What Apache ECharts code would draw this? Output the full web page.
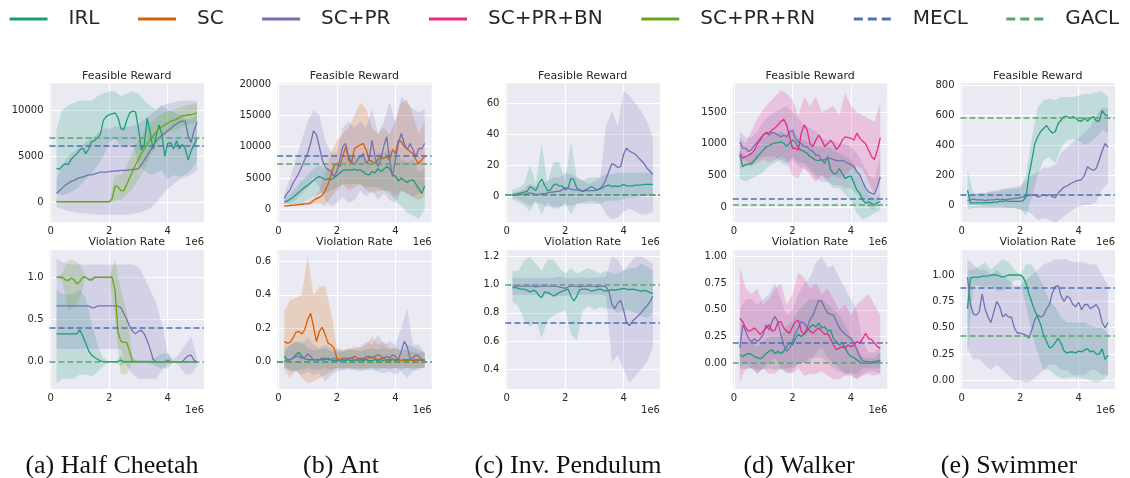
<!DOCTYPE html>
<html>
<head>
<meta charset="utf-8">
<script src="https://cdn.jsdelivr.net/npm/echarts@6/dist/echarts.min.js"></script>
<style>
  html, body { margin: 0; padding: 0; background: #fff; }
  #chart { width: 1130px; height: 478px; }
</style>
</head>
<body>
<div id="chart"></div>
<script>
// x positions, in units of 1e6 steps
const X = [0.2,0.3,0.4,0.5,0.6,0.7,0.8,0.9,1.0,1.1, 1.2,1.3,1.4,1.5,1.6,1.7,1.8,1.9,2.0,2.1,
  2.2,2.3,2.4,2.5,2.6,2.7,2.8,2.9,3.0,3.1, 3.2,3.3,3.4,3.5,3.6,3.7,3.8,3.9,4.0,4.1,
  4.2,4.3,4.4,4.5,4.6,4.7,4.8,4.9,5.0]
// x positions of the shaded bands
const XB = [0.2,0.4,0.6,0.8,1.0, 1.2,1.4,1.6,1.8,2.0, 2.2,2.4,2.6,2.8,3.0, 3.2,3.4,3.6,3.8,4.0, 4.2,4.4,4.6,4.8,5.0]

const X_TICKS = [0, 2, 4]

const COLORS = {
  'IRL': '#1b9e77', 'SC': '#d95f02', 'SC+PR': '#7570b3', 'SC+PR+BN': '#e7298a',
  'SC+PR+RN': '#66a61e', 'MECL': '#4c72b0', 'GACL': '#55a868'
}
const LEGEND_NAMES = ['IRL', 'SC', 'SC+PR', 'SC+PR+BN', 'SC+PR+RN', 'MECL', 'GACL']

// ---------- (a) Half Cheetah : feasible reward ----------
const hcR_IRL = [3700,3600,4000,4200,4100,4700,5000,5300,5700,5900, 5300,5800,6600,6700,7000,7400,8900,9300,9500,9600,
  9700,9200,8000,7900,8900,9700,9900,9800,8000,5700, 6300,9100,7600,5800,7100,8400,7400,5000,6400,6500,
  5800,6700,5800,6300,5800,4600,5600,6300,6900]
const hcR_IRL_lo = [1000,800,1000,1300,1800, 2500,3200,4000,5000,6500, 7000,6000,6000,6500,4000, 3500,3000,3200,3500,2500, 3000,2800,3000,3500,4500]
const hcR_IRL_hi = [8000,10000,10500,10800,11000, 11000,11000,11500,11800,12000, 12000,11500,11800,12000,11800, 11000,10500,10000,10500,10000, 9800,9500,9000,9000,9500]
const hcR_PR = [1000,1300,1600,1900,2100,2300,2400,2600,2700,2800, 2900,3000,3000,3100,3200,3300,3300,3300,3350,3400,
  3400,3450,3500,3500,3500,3550,3600,3600,3700,4100, 4600,5100,5600,6100,6600,7000,7300,7500,7800,8000,
  8300,8500,8700,8800,8800,7200,6500,7800,8700]
const hcR_PR_lo = [-500,-700,-900,-1000,-1100, -1200,-1200,-1300,-1300,-1300, -1300,-1300,-1300,-1200,-1100, -900,-600,0,800,1500, 2000,2500,2800,3000,3500]
const hcR_PR_hi = [2500,4000,5000,5500,6000, 6500,7000,7500,8000,8000, 8200,8200,8200,8300,8500, 9000,9500,10000,10500,10700, 10800,11000,11000,11000,11000]
const hcR_RN = [100,100,100,100,100,100,100,100,100,100, 100,100,100,100,100,100,100,100,100,400,
  1800,1700,1300,1300,2000,2700,3400,4100,4700,5300, 5800,6300,6800,7200,7600,8000,8200,8400,8600,8800,
  8900,9000,9200,9400,9400,9500,9500,9600,9700]
const hcR_RN_lo = [0,0,0,0,0, 0,0,0,0,0, 300,300,800,1500,2500, 3500,5000,6000,7000,7500, 7800,8000,8300,8500,8700]
const hcR_RN_hi = [200,200,200,200,200, 200,200,200,200,200, 3000,3000,4000,5500,6800, 7800,8600,9200,9600,9900, 10000,10300,10500,10600,10800]

// ---------- (a) Half Cheetah : violation rate ----------
const hcV_IRL = [0.33,0.33,0.33,0.33,0.33,0.33,0.33,0.33,0.38,0.3, 0.22,0.13,0.08,0.05,0.03,0.01,0,0,0,0,
  0,0,0.02,0,0,0,0,0,0,0, 0,0,0,0,0,0,0,0,0,0, 0,0,0,0,0,0,0,0,0]
const hcV_IRL_lo = [-0.25,-0.2,-0.2,-0.2,-0.15, -0.15,-0.17,-0.12,-0.05,0, 0,-0.05,0,0,0, 0,-0.02,-0.05,-0.08,-0.08, 0,0,0,0,0]
const hcV_IRL_hi = [0.85,0.8,0.8,0.8,0.85, 0.75,0.45,0.2,0.05,0, 0,0.08,0,0.02,0.02, 0.02,0.02,0.05,0.1,0.1, 0,0,0,0,0]
const hcV_PR = [0.66,0.66,0.66,0.66,0.66,0.66,0.66,0.66,0.66,0.66, 0.66,0.66,0.64,0.64,0.66,0.66,0.66,0.66,0.66,0.66,
  0.66,0.66,0.64,0.57,0.5,0.42,0.36,0.33,0.36,0.37, 0.33,0.25,0.15,0.03,0,0,0,0,0.02,0,
  0,0,0,0,0.04,0.07,0.08,0.02,0]
const hcV_PR_lo = [0.15,0.15,0.15,0.15,0.15, 0.15,0.15,0.15,0.15,0.15, 0.15,0.15,-0.05,-0.15,-0.2, -0.2,-0.2,-0.2,-0.1,-0.03, 0,-0.05,-0.15,-0.15,-0.05]
const hcV_PR_hi = [1.22,1.18,1.16,1.15,1.15, 1.15,1.15,1.15,1.15,1.15, 1.15,1.15,1.15,1.15,1.12, 1.0,0.85,0.7,0.45,0.1, 0.02,0.1,0.2,0.3,0.05]
const hcV_RN = [1.0,1.0,1.0,0.97,0.96,0.99,0.97,0.92,0.95,1.0, 1.0,0.97,0.97,1.0,1.0,1.0,1.0,1.0,1.0,1.0,
  0.85,0.35,0.24,0.23,0.23,0.12,0,0,0,0, 0,0,0,0,0,0,0,0,0,0, 0,0,0,0,0,0,0,0,0]
const hcV_RN_lo = [1.0,0.95,0.6,0.65,0.75, 1.0,0.95,1.0,1.0,1.0, 0.5,-0.15,-0.15,0,0, 0,0,0,0,0, 0,0,0,0,0]
const hcV_RN_hi = [1.0,1.05,1.2,1.2,1.15, 1.0,1.0,1.0,1.0,1.0, 1.2,0.85,0.6,0.05,0, 0,0,0,0,0, 0,0,0,0,0]

// ---------- (b) Ant : feasible reward ----------
const antR_IRL = [1200,1300,1600,1900,2300,2700,3100,3500,3800,4200, 4600,5000,5200,5000,4700,4900,4700,5000,5400,5800,
  6200,6300,6300,6200,6400,6200,6300,6000,5600,5500, 6000,5800,6500,6000,6400,6800,6500,5500,5300,4500,
  5000,4600,4300,4600,4700,4000,3300,2500,3700]
const antR_IRL_lo = [900,800,800,1000,1500, 2000,2500,2500,3000,3500, 4000,4000,4000,4000,3500, 3500,3500,3000,2500,1500, 500,-500,-1000,-1500,0]
const antR_IRL_hi = [1500,2500,3500,4500,5500, 6500,7000,6500,6500,7500, 8000,8500,8500,8500,8000, 8000,9000,9000,9500,8500, 8000,7500,8000,6000,6500]
const antR_SC = [500,550,600,650,700,750,800,850,900,1000, 1400,1700,1900,2200,3000,4000,5500,7000,7300,6800,
  8400,10000,7900,7300,9700,10000,10300,10500,9500,7900, 7600,7300,7900,8400,8100,8400,7900,9500,8900,11000,
  10800,10000,9700,9200,8900,7900,7300,7900,8400]
const antR_SC_lo = [400,500,500,600,600, 900,1000,500,2000,3000, 4000,3000,3500,4000,3000, 2500,3000,3000,3000,2000, 3000,2500,2000,1500,2000]
const antR_SC_hi = [600,700,900,1000,1200, 1800,3000,6000,9000,11000, 12000,13000,15000,17000,16000, 13000,12000,13000,12000,14000, 17000,17500,15000,12000,14000]
const antR_PR = [1750,2550,3100,4150,4950,5750,6800,7900,8900,10500, 12500,11900,10000,7900,6800,6300,6000,5200,6000,7900,
  10000,10500,8400,7600,7100,7900,8400,8900,7300,7900, 11000,8400,6800,7900,10000,11600,7900,5200,7900,10500,
  12100,10500,9500,10500,9500,8400,9700,9700,10500]
const antR_PR_lo = [800,1000,1500,2500,3500, 5000,3500,1500,500,1000, 2000,1000,1500,3000,2000, 3000,1500,2500,1500,1000, 3000,2500,2000,2500,3500]
const antR_PR_hi = [2500,5000,8000,11000,14000, 15800,15000,11000,9000,9000, 13000,14000,13000,14000,13000, 16000,12000,14000,17000,14000, 18000,17000,16000,15500,16000]

// ---------- (b) Ant : violation rate ----------
const antV_IRL = [0.03,0.01,0.01,0.02,0.04,0.055,0.03,0.015,0.01,0.01, 0.01,0.01,0.01,0.01,0.01,0.02,0.01,0.005,0.005,0.005,
  0.01,0.005,0.01,0.005,0.01,0.005,0.01,0.005,0.01,0.005, 0.005,0.01,0.005,0.01,0.005,0.01,0.005,0.01,0.005,0.01,
  0.005,0.01,0.005,0.01,0.005,0.01,0.005,0.01,0.005]
const antV_IRL_lo = [-0.04,-0.05,-0.06,-0.05,-0.04, -0.05,-0.05,-0.04,-0.05,-0.04, -0.05,-0.04,-0.05,-0.04,-0.05, -0.04,-0.05,-0.04,-0.05,-0.04, -0.05,-0.04,-0.05,-0.04,-0.04]
const antV_IRL_hi = [0.08,0.1,0.12,0.12,0.08, 0.07,0.07,0.08,0.06,0.06, 0.06,0.07,0.07,0.06,0.07, 0.08,0.07,0.08,0.07,0.08, 0.07,0.1,0.09,0.07,0.05]
const antV_SC = [0.12,0.11,0.115,0.14,0.175,0.18,0.165,0.19,0.25,0.29, 0.21,0.12,0.18,0.205,0.16,0.11,0.1,0.08,0.02,0.01,
  0.02,0.015,0.02,0.02,0.03,0.02,0.01,0.02,0.015,0.02, 0.025,0.02,0.01,0.015,0.02,0.01,0.01,0.015,0.01,0.01,
  0.005,0.01,0.01,0.01,0.005,0.01,0.01,0.005,0.01]
const antV_SC_lo = [-0.05,-0.1,-0.05,-0.1,-0.13, -0.12,-0.1,-0.08,-0.06,-0.04, -0.04,-0.04,-0.04,-0.05,-0.04, -0.04,-0.04,-0.04,-0.04,-0.04, -0.04,-0.04,-0.04,-0.04,-0.04]
const antV_SC_hi = [0.3,0.37,0.38,0.4,0.63, 0.4,0.45,0.45,0.3,0.08, 0.07,0.07,0.09,0.08,0.1, 0.15,0.1,0.12,0.08,0.08, 0.06,0.07,0.06,0.05,0.06]
const antV_PR = [0,0.01,0.01,0.02,0.03,0.03,0.02,0.02,0.045,0.03, 0.01,0.01,0.01,0.02,0.02,0.01,0.01,0.02,0.01,0.005,
  0.01,0.02,0.01,0.02,0.01,0.01,0.02,0.01,0.03,0.03, 0.02,0.03,0.04,0.03,0.02,0.03,0.02,0.04,0.03,0.01,
  0.06,0.12,0.09,0.02,0.02,0.04,0.03,0.01,0.01]
const antV_PR_lo = [-0.03,-0.06,-0.06,-0.08,-0.06, -0.08,-0.07,-0.12,-0.08,-0.06, -0.05,-0.05,-0.05,-0.06,-0.05, -0.05,-0.06,-0.07,-0.06,-0.08, -0.06,-0.1,-0.06,-0.05,-0.03]
const antV_PR_hi = [0.05,0.1,0.12,0.1,0.14, 0.1,0.08,0.1,0.08,0.07, 0.06,0.08,0.07,0.09,0.12, 0.1,0.16,0.1,0.12,0.1, 0.2,0.32,0.1,0.1,0.05]

// ---------- (c) Inv. Pendulum : feasible reward ----------
const ipR_IRL = [1,1,1.5,2,2.5,3,6,5,3.5,8, 11,7,3.5,4,7,7.8,6.5,6.5,4,5,
  11.5,10.5,5,4,3,4,5,6,5,4, 4.5,5.5,6.5,7,6,6.5,6,6.5,7.5,6.5,
  6.5,6.5,7,7,7.2,7.5,7.5,7.5,7.5]
const ipR_IRL_lo = [-2,-4,-6,-10,-3, -12,-4,-8,-8,-4, -12,-5,-5,-5,-5, -5,-3,-3,-3,-2, -1,-1,0,0,0]
const ipR_IRL_hi = [4,5,8,20,8, 34,8,22,22,10, 35,12,10,12,12, 12,14,14,15,15, 15,15,15,15,15]
const ipR_PR = [0.5,0.5,1,1,1.2,1.5,2,1.5,1,1, 1.5,1.5,2,2.5,2.5,3,3,4,5.5,5,
  4.5,4,4,3.5,3,3.5,3.5,3.5,3.5,4, 5,7,11,16,21,20,18.5,19,27,31,
  29,28,27,25,23,21,18,16,14]
const ipR_PR_lo = [-1,-2,-4,-6,-4, -5,-7,-7,-7,-6, -6,-5,-4,-3,-3, -5,-12,-15,-14,-10, -8,-10,-12,-12,-10]
const ipR_PR_hi = [2,3,5,8,6, 8,10,12,12,15, 14,12,10,8,9, 12,45,55,45,68, 65,60,55,48,38]

// ---------- (c) Inv. Pendulum : violation rate ----------
const ipV_IRL = [0.98,0.98,0.975,0.97,0.97,0.96,0.95,0.96,0.955,0.925, 0.91,0.95,0.945,0.935,0.92,0.93,0.945,0.955,0.96,0.97,
  0.92,0.885,0.92,0.965,0.97,0.97,0.965,0.955,0.96,0.965, 0.97,0.96,0.955,0.96,0.965,0.96,0.965,0.97,0.975,0.97,
  0.965,0.97,0.965,0.96,0.955,0.96,0.955,0.945,0.94]
const ipV_IRL_lo = [0.88,0.85,0.75,0.7,0.75, 0.62,0.75,0.78,0.8,0.82, 0.65,0.6,0.82,0.85,0.82, 0.84,0.83,0.83,0.8,0.82, 0.82,0.8,0.78,0.76,0.8]
const ipV_IRL_hi = [1.1,1.1,1.17,1.2,1.15, 1.1,1.18,1.18,1.12,1.08, 1.12,1.08,1.1,1.12,1.1, 1.08,1.1,1.08,1.08,1.1, 1.12,1.12,1.15,1.13,1.1]
const ipV_PR = [0.995,0.99,0.99,0.99,0.99,0.99,0.99,0.99,0.985,0.99, 0.99,0.99,0.99,0.99,0.99,0.99,0.985,0.98,0.975,0.985,
  0.99,0.99,0.99,0.985,0.99,0.99,0.99,0.99,0.99,0.985, 0.99,0.99,0.985,0.95,0.86,0.83,0.87,0.89,0.82,0.73,
  0.71,0.74,0.76,0.78,0.8,0.83,0.85,0.88,0.92]
const ipV_PR_lo = [0.93,0.93,0.93,0.93,0.93, 0.93,0.93,0.93,0.92,0.92, 0.93,0.93,0.93,0.93,0.93, 0.93,0.92,0.45,0.5,0.4, 0.3,0.35,0.4,0.45,0.55]
const ipV_PR_hi = [1.05,1.05,1.05,1.05,1.05, 1.05,1.05,1.05,1.06,1.05, 1.05,1.05,1.05,1.05,1.05, 1.05,1.06,1.2,1.18,1.1, 1.15,1.2,1.2,1.18,1.15]

// ---------- (d) Walker : feasible reward ----------
const wkR_IRL = [820,640,670,680,690,740,800,850,900,950, 970,1000,1010,1020,1030,1010,960,1010,1060,1030,
  930,900,880,850,800,770,740,740,750,690, 800,590,530,530,610,530,450,480,490,380,
  270,220,110,60,80,60,30,70,80]
const wkR_IRL_lo = [450,400,450,500,550, 650,700,750,700,800, 700,700,600,500,500, 400,300,300,200,100, -100,-200,-150,-100,-50]
const wkR_IRL_hi = [900,800,850,950,1100, 1150,1150,1200,1150,1200, 1100,1050,1000,950,950, 950,900,850,800,750, 600,400,200,150,200]
const wkR_PR = [1030,930,930,880,910,980,1030,1090,1140,1170, 1140,1180,1170,1140,1110,1140,1110,1190,1220,1090,
  1030,1000,960,950,900,880,820,820,740,750, 770,770,750,740,730,740,720,690,670,640,
  560,510,400,300,240,215,200,320,480]
const wkR_PR_lo = [850,750,650,750,800, 800,800,700,650,750, 650,600,550,450,400, 400,350,350,300,300, 200,100,0,-50,150]
const wkR_PR_hi = [1200,1100,1100,1200,1350, 1450,1500,1550,1600,1500, 1400,1300,1250,1200,1100, 1050,1050,1000,1000,950, 850,700,500,450,800]
const wkR_BN = [850,770,800,820,850,900,1000,1060,1140,1180, 1170,1220,1250,1300,1350,1390,1300,1110,930,930,
  900,1170,1300,1220,1000,960,1060,1140,1060,960, 1000,1060,1000,910,960,1060,1110,1100,1090,1060,
  1170,1090,1040,1000,900,800,750,900,1100]
const wkR_BN_lo = [600,650,650,700,750, 700,750,800,750,500, 450,650,500,400,500, 450,500,450,500,600, 650,600,400,200,500]
const wkR_BN_hi = [1100,1000,1200,1400,1550, 1650,1750,1850,1800,1700, 1450,1750,1600,1750,1500, 1550,1600,1450,1800,1600, 1500,1450,1400,1350,1650]

// ---------- (d) Walker : violation rate ----------
const wkV_IRL = [0.08,0.06,0.08,0.09,0.08,0.06,0.05,0.04,0.06,0.09, 0.11,0.125,0.09,0.11,0.09,0.11,0.155,0.19,0.17,0.23,
  0.27,0.25,0.27,0.3,0.34,0.36,0.34,0.375,0.33,0.34, 0.3,0.31,0.23,0.2,0.17,0.19,0.14,0.09,0.06,0.05,
  0.03,0.01,0,0,0,0,0,0.01,0.03]
const wkV_IRL_lo = [-0.05,-0.06,-0.05,-0.06,-0.06, -0.05,-0.06,-0.06,-0.05,-0.05, 0,0,0.05,0.05,0.05, 0,-0.05,-0.08,-0.1,-0.1, -0.1,-0.05,-0.05,-0.05,-0.05]
const wkV_IRL_hi = [0.2,0.2,0.2,0.15,0.2, 0.25,0.25,0.25,0.35,0.4, 0.5,0.55,0.6,0.6,0.6, 0.55,0.5,0.45,0.35,0.25, 0.15,0.05,0.05,0.05,0.1]
const wkV_PR = [0.14,0.36,0.3,0.23,0.2,0.23,0.2,0.23,0.27,0.36, 0.31,0.39,0.44,0.39,0.27,0.17,0.11,0.14,0.2,0.28,
  0.33,0.39,0.375,0.33,0.41,0.45,0.52,0.59,0.58,0.52, 0.47,0.46,0.45,0.39,0.33,0.3,0.27,0.25,0.23,0.19,
  0.125,0.06,0.02,0.015,0.01,0.01,0.015,0.02,0.02]
const wkV_PR_lo = [-0.05,0,-0.05,-0.1,-0.05, 0,0.05,-0.05,-0.1,-0.08, 0,0,0,0.1,0.15, 0.05,0,-0.05,-0.1,-0.1, -0.15,-0.1,-0.08,-0.08,-0.1]
const wkV_PR_hi = [0.5,0.6,0.6,0.55,0.6, 0.65,0.75,0.6,0.45,0.5, 0.65,0.75,0.8,0.95,1.0, 0.9,0.92,0.8,0.7,0.6, 0.5,0.2,0.1,0.1,0.15]
const wkV_BN = [0.42,0.39,0.33,0.3,0.31,0.33,0.3,0.27,0.3,0.33, 0.36,0.3,0.31,0.38,0.39,0.33,0.3,0.28,0.34,0.39,
  0.4,0.3,0.27,0.33,0.3,0.28,0.31,0.33,0.3,0.27, 0.28,0.23,0.17,0.125,0.14,0.155,0.14,0.17,0.155,0.17,
  0.2,0.19,0.23,0.28,0.23,0.22,0.19,0.155,0.14]
const wkV_BN_lo = [-0.18,-0.05,-0.05,-0.1,-0.05, -0.1,-0.1,-0.05,-0.08,-0.1, -0.05,-0.12,-0.1,-0.1,-0.08, -0.12,-0.15,-0.15,-0.12,-0.12, -0.15,-0.12,-0.1,-0.12,-0.1]
const wkV_BN_hi = [0.9,0.7,0.65,0.7,0.55, 0.6,0.7,0.75,0.55,0.65, 0.85,0.8,0.7,0.75,0.65, 0.7,0.6,0.5,0.55,0.45, 0.55,0.6,0.65,0.55,0.45]

// ---------- (e) Swimmer : feasible reward ----------
const swR_IRL = [100,15,15,15,15,15,15,18,15,20, 20,25,25,30,25,25,25,25,25,30,
  55,200,300,410,455,490,510,530,500,480, 490,545,565,590,590,580,590,580,560,560,
  580,560,575,590,560,560,630,600,595]
const swR_IRL_lo = [-30,-20,-20,-20,-20, -20,-20,-20,-20,-30, -70,50,200,300,320, 280,380,430,440,430, 400,420,450,500,480]
const swR_IRL_hi = [230,80,80,80,90, 90,100,110,110,110, 200,450,650,700,710, 700,720,720,720,730, 740,740,750,760,720]
const swR_PR = [30,35,40,35,35,35,30,35,35,35, 40,35,40,35,40,40,45,45,50,55,
  60,65,70,65,55,60,70,60,70,55, 50,80,100,120,127,140,150,160,165,170,
  200,255,240,230,245,300,360,410,385]
const swR_PR_lo = [0,0,0,-10,-10, -10,-10,-20,-20,-30, -40,-60,-100,-90,-100, -120,-90,-60,-30,-10, 0,0,20,100,150]
const swR_PR_hi = [60,70,80,80,90, 100,110,110,120,130, 160,200,220,250,250, 270,350,380,420,450, 480,520,600,650,650]

// ---------- (e) Swimmer : violation rate ----------
const swV_IRL = [0.68,0.97,0.98,0.98,0.98,0.99,0.99,0.99,1.0,1.0, 1.0,0.99,0.98,0.99,1.0,1.0,1.0,1.0,1.0,0.98,
  0.92,0.82,0.74,0.66,0.6,0.53,0.43,0.37,0.31,0.32, 0.36,0.4,0.35,0.28,0.26,0.27,0.27,0.26,0.28,0.27,
  0.29,0.3,0.27,0.28,0.25,0.25,0.3,0.2,0.24]
const swV_IRL_lo = [0.25,0.9,0.9,0.88,0.9, 0.85,0.85,0.88,0.95,0.95, 0.7,0.45,0.25,0.1,0.1, 0.05,0.02,0.02,0.03,0.02, 0.02,0,-0.02,0,0.05]
const swV_IRL_hi = [1.05,1.05,1.08,1.12,1.05, 1.1,1.15,1.12,1.05,1.0, 1.1,1.1,1.0,0.9,0.75, 0.7,0.6,0.55,0.55,0.55, 0.55,0.52,0.5,0.5,0.45]
const swV_PR = [0.98,0.72,0.63,0.62,0.65,0.82,0.68,0.6,0.55,0.65, 0.75,0.7,0.6,0.63,0.6,0.6,0.5,0.45,0.45,0.44,
  0.43,0.4,0.48,0.58,0.62,0.6,0.62,0.68,0.72,0.83, 0.89,0.9,0.8,0.75,0.8,0.78,0.72,0.7,0.74,0.67,
  0.72,0.72,0.68,0.7,0.72,0.67,0.55,0.5,0.55]
const swV_PR_lo = [0.3,0.2,0.2,0.15,0.1, 0.15,0.1,0.05,0,0, -0.02,0,0.05,0.1,0.15, 0.15,0.1,0.1,0.05,0.05, 0.05,0.1,0.1,0.05,0.05]
const swV_PR_hi = [1.15,1.1,1.05,1.05,1.0, 1.05,1.0,0.95,0.9,0.9, 0.95,1.0,1.05,1.1,1.12, 1.15,1.15,1.15,1.12,1.12, 1.12,1.1,1.1,1.0,0.9]

// baselines (horizontal dashed lines): [MECL, GACL]
const hcR_base = [6100, 7000]
const hcV_base = [0.40, 0.0]
const antR_base = [8560, 7230]
const antV_base = [0.0, 0.0]
const ipR_base = [0.5, 0.7]
const ipV_base = [0.73, 1.0]
const wkR_base = [137, 37]
const wkV_base = [0.19, 0.0]
const swR_base = [67, 580]
const swV_base = [0.88, 0.425]

// 子图配置
const panels = [
  { caption: '(a) Half Cheetah', capX: 112, plots: [
    { range: [-2117, 12894], ticks: [0, 5000, 10000], dec: 0, base: hcR_base,
      lines: [['IRL', hcR_IRL, hcR_IRL_lo, hcR_IRL_hi], ['SC+PR', hcR_PR, hcR_PR_lo, hcR_PR_hi], ['SC+PR+RN', hcR_RN, hcR_RN_lo, hcR_RN_hi]] },
    { range: [-0.322, 1.322], ticks: [0, 0.5, 1.0], dec: 1, base: hcV_base,
      lines: [['IRL', hcV_IRL, hcV_IRL_lo, hcV_IRL_hi], ['SC+PR', hcV_PR, hcV_PR_lo, hcV_PR_hi], ['SC+PR+RN', hcV_RN, hcV_RN_lo, hcV_RN_hi]] }
  ] },
  { caption: '(b) Ant', capX: 341, plots: [
    { range: [-2077, 20100], ticks: [0, 5000, 10000, 15000, 20000], dec: 0, base: antR_base,
      lines: [['IRL', antR_IRL, antR_IRL_lo, antR_IRL_hi], ['SC', antR_SC, antR_SC_lo, antR_SC_hi], ['SC+PR', antR_PR, antR_PR_lo, antR_PR_hi]] },
    { range: [-0.166, 0.670], ticks: [0, 0.2, 0.4, 0.6], dec: 1, base: antV_base,
      lines: [['IRL', antV_IRL, antV_IRL_lo, antV_IRL_hi], ['SC', antV_SC, antV_SC_lo, antV_SC_hi], ['SC+PR', antV_PR, antV_PR_lo, antV_PR_hi]] }
  ] },
  { caption: '(c) Inv. Pendulum', capX: 568, plots: [
    { range: [-17, 72.9], ticks: [0, 20, 40, 60], dec: 0, base: ipR_base,
      lines: [['IRL', ipR_IRL, ipR_IRL_lo, ipR_IRL_hi], ['SC+PR', ipR_PR, ipR_PR_lo, ipR_PR_hi]] },
    { range: [0.258, 1.248], ticks: [0.4, 0.6, 0.8, 1.0, 1.2], dec: 1, base: ipV_base,
      lines: [['IRL', ipV_IRL, ipV_IRL_lo, ipV_IRL_hi], ['SC+PR', ipV_PR, ipV_PR_lo, ipV_PR_hi]] }
  ] },
  { caption: '(d) Walker', capX: 799, plots: [
    { range: [-242, 1959], ticks: [0, 500, 1000, 1500], dec: 0, base: wkR_base,
      lines: [['IRL', wkR_IRL, wkR_IRL_lo, wkR_IRL_hi], ['SC+PR', wkR_PR, wkR_PR_lo, wkR_PR_hi], ['SC+PR+BN', wkR_BN, wkR_BN_lo, wkR_BN_hi]] },
    { range: [-0.244, 1.063], ticks: [0, 0.25, 0.5, 0.75, 1.0], dec: 2, base: wkV_base,
      lines: [['IRL', wkV_IRL, wkV_IRL_lo, wkV_IRL_hi], ['SC+PR', wkV_PR, wkV_PR_lo, wkV_PR_hi], ['SC+PR+BN', wkV_BN, wkV_BN_lo, wkV_BN_hi]] }
  ] },
  { caption: '(e) Swimmer', capX: 1009, plots: [
    { range: [-115, 811], ticks: [0, 200, 400, 600, 800], dec: 0, base: swR_base,
      lines: [['IRL', swR_IRL, swR_IRL_lo, swR_IRL_hi], ['SC+PR', swR_PR, swR_PR_lo, swR_PR_hi]] },
    { range: [-0.081, 1.237], ticks: [0, 0.25, 0.5, 0.75, 1.0], dec: 2, base: swV_base,
      lines: [['IRL', swV_IRL, swV_IRL_lo, swV_IRL_hi], ['SC+PR', swV_PR, swV_PR_lo, swV_PR_hi]] }
  ] }
]

const GRID_LEFT = [49.5, 277.2, 505.4, 732.8, 960.5]
const GRID_TOP = [83.3, 250]
const GRID_W = 154.5
const GRID_H = 139
const FONT = '"DejaVu Sans", sans-serif'
const TXT = '#262626'

const grids = []
const xAxes = []
const yAxes = []
const series = []
const graphics = []

const bandSeries = (gi, name, lo, hi) => {
  const data = XB.map((x, i) => [x, lo[i], hi[i]])
  return {
    name: name + ' band',
    type: 'custom',
    xAxisIndex: gi,
    yAxisIndex: gi,
    silent: true,
    z: 1,
    data: data,
    encode: { x: 0, y: [1, 2] },
    renderItem: (params, api) => {
      if (params.dataIndex !== 0) return
      const upper = data.map(d => api.coord([d[0], d[2]]))
      const lower = data.map(d => api.coord([d[0], d[1]])).reverse()
      return {
        type: 'polygon',
        shape: { points: upper.concat(lower) },
        style: { fill: COLORS[name], opacity: 0.2 }
      }
    }
  }
}

panels.forEach((panel, p) => {
  panel.plots.forEach((plot, r) => {
    const gi = grids.length
    const left = GRID_LEFT[p]
    const top = GRID_TOP[r]
    grids.push({
      left: left, top: top, width: GRID_W, height: GRID_H,
      show: true, backgroundColor: '#eaeaf2', borderWidth: 0,
      containLabel: false, outerBoundsMode: 'none'
    })
    xAxes.push({
      type: 'value', gridIndex: gi, min: -0.04, max: 5.24,
      axisLine: { show: false },
      axisTick: { show: false, customValues: X_TICKS },
      splitLine: { show: true, lineStyle: { color: '#ffffff', width: 1 } },
      axisLabel: { customValues: X_TICKS, fontSize: 10, fontFamily: FONT, color: TXT, margin: 4,
        formatter: v => String(v) }
    })
    yAxes.push({
      type: 'value', gridIndex: gi, min: plot.range[0], max: plot.range[1],
      axisLine: { show: false },
      axisTick: { show: false, customValues: plot.ticks },
      splitLine: { show: true, lineStyle: { color: '#ffffff', width: 1 } },
      axisLabel: { customValues: plot.ticks, fontSize: 10, fontFamily: FONT, color: TXT, margin: 6,
        formatter: v => v.toFixed(plot.dec) }
    })
    // 置信区间
    plot.lines.forEach(([name, mean, lo, hi]) => {
      series.push(bandSeries(gi, name, lo, hi))
    })
    // 均值曲线
    plot.lines.forEach(([name, mean]) => {
      series.push({
        name: name, type: 'line', xAxisIndex: gi, yAxisIndex: gi,
        data: X.map((x, i) => [x, mean[i]]),
        symbol: 'none', showSymbol: false, silent: true, z: 2,
        lineStyle: { color: COLORS[name], width: 1.3 },
        itemStyle: { color: COLORS[name] }
      })
    })
    // 基线
    ;['MECL', 'GACL'].forEach((name, k) => {
      series.push({
        name: name, type: 'line', xAxisIndex: gi, yAxisIndex: gi,
        data: [], symbol: 'none', silent: true, z: 3,
        lineStyle: { color: COLORS[name], type: [9, 5] },
        itemStyle: { color: COLORS[name] },
        markLine: {
          silent: true, symbol: 'none', animation: false,
          label: { show: false },
          lineStyle: { color: COLORS[name], type: [6, 3], width: 1.6 },
          emphasis: { disabled: true },
          data: [{ yAxis: plot.base[k] }]
        }
      })
    })
    // 标题与 1e6
    graphics.push({
      type: 'text', x: left + GRID_W / 2, y: r === 0 ? 75.7 : 242.5,
      style: { text: r === 0 ? 'Feasible Reward' : 'Violation Rate', font: '11px ' + FONT, fill: TXT,
        align: 'center', verticalAlign: 'middle', textAlign: 'center', textVerticalAlign: 'middle' }
    })
    graphics.push({
      type: 'text', x: left + GRID_W, y: r === 0 ? 242 : 410,
      style: { text: '1e6', font: '10px ' + FONT, fill: TXT,
        align: 'right', verticalAlign: 'middle', textAlign: 'right', textVerticalAlign: 'middle' }
    })
  })
  graphics.push({
    type: 'text', x: panel.capX, y: 466,
    style: { text: panel.caption, font: '26px "Liberation Serif", serif', fill: '#111',
      align: 'center', verticalAlign: 'middle', textAlign: 'center', textVerticalAlign: 'middle' }
  })
})

const chart = echarts.init(document.getElementById('chart'), null, { renderer: 'canvas' })
chart.setOption({
  animation: false,
  backgroundColor: '#ffffff',
  grid: grids,
  xAxis: xAxes,
  yAxis: yAxes,
  legend: {
    data: LEGEND_NAMES,
    left: 8, top: 9, padding: 0, width: 1400,
    itemWidth: 38, itemHeight: 14, itemGap: 37,
    selectedMode: false,
    itemStyle: { opacity: 0, borderWidth: 0 },
    lineStyle: { width: 3 },
    textStyle: { fontSize: 20, fontFamily: FONT, color: TXT, padding: [0, 0, 0, 16] }
  },
  graphic: graphics,
  series: series
})
</script>
</body>
</html>
